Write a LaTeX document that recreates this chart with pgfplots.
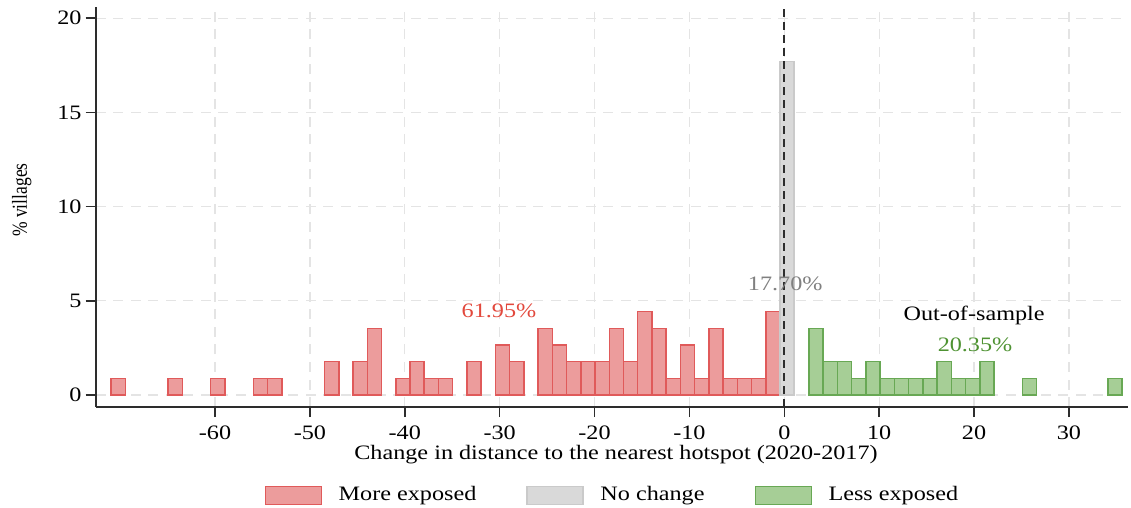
\documentclass[border=0pt]{standalone}
\usepackage{fontspec}
\setmainfont{Liberation Serif}[FakeStretch=1.18]
\newfontfamily\plainserif{Liberation Serif}
\usepackage{pgfplots}
\pgfplotsset{compat=1.18}
\definecolor{redfill}{RGB}{236,156,156}
\definecolor{rededge}{RGB}{224,90,90}
\definecolor{redtext}{RGB}{226,72,60}
\definecolor{grayfill}{RGB}{217,217,217}
\definecolor{grayedge}{RGB}{202,202,202}
\definecolor{graytext}{RGB}{128,128,128}
\definecolor{greenfill}{RGB}{166,206,150}
\definecolor{greenedge}{RGB}{104,168,84}
\definecolor{greentext}{RGB}{78,146,50}
\definecolor{gridc}{RGB}{228,228,228}
\definecolor{axc}{RGB}{45,45,45}
\newcommand{\fs}{\fontsize{8.2pt}{9.8pt}\selectfont}
\pgfplotsset{
  histbar/.style={ybar, bar width=1.5, bar shift=0pt, line width=0.6pt,
    legend image code/.code={\draw[##1, line width=0.6pt] (0pt,-3.6pt) rectangle (22.4pt,3.6pt);}},
}
\begin{document}
\begin{tikzpicture}
\useasboundingbox (-38.3pt,-40.4pt) rectangle (414.1pt,162.8pt);
\begin{axis}[
  at={(0pt,0pt)}, anchor=south west,
  scale only axis, width=412.9pt, height=160.1pt,
  xmin=-72.57, xmax=36.22, ymin=-0.64, ymax=20.61,
  axis x line*=bottom, axis y line*=left,
  axis line style={axc, line width=0.6pt},
  xtick={-60,-50,...,30}, ytick={0,5,...,20},
  tick align=outside, major tick length=4pt,
  tick style={axc, line width=0.6pt},
  grid=major, grid style={gridc, dash pattern=on 4pt off 3pt, line width=0.5pt},
  /pgf/number format/assume math mode=true,
  tick label style={font=\fs},
  yticklabel style={inner sep=1.5pt},
  xlabel={Change in distance to the nearest hotspot (2020-2017)},
  xlabel style={at={(axis description cs:0.504,-0.1324)}, anchor=base, font=\fs},
  ylabel={\scalebox{1}[1.22]{\% villages}},
  ylabel style={at={(axis description cs:-0.0666,0.517)}, anchor=base, font=\plainserif\fontsize{7pt}{8.4pt}\selectfont},
  legend columns=3,
  legend style={at={(axis description cs:0.502,-0.185)}, anchor=north, draw=none, fill=none, font=\fs,
    inner sep=0pt,
    /tikz/every even column/.append style={column sep=18pt},
    /tikz/every odd column/.append style={column sep=4.6pt}},
]
\addplot[histbar, fill=redfill, draw=rededge] coordinates {
(-70.2,0.885) (-64.2,0.885) (-59.7,0.885) (-55.2,0.885) (-53.7,0.885)
(-47.7,1.770) (-44.7,1.770) (-43.2,3.540)
(-40.2,0.885) (-38.7,1.770) (-37.2,0.885) (-35.7,0.885)
(-32.7,1.770) (-29.7,2.655) (-28.2,1.770)
(-25.2,3.540) (-23.7,2.655) (-22.2,1.770) (-20.7,1.770) (-19.2,1.770) (-17.7,3.540)
(-16.2,1.770) (-14.7,4.425) (-13.2,3.540) (-11.7,0.885) (-10.2,2.655) (-8.7,0.885)
(-7.2,3.540) (-5.7,0.885) (-4.2,0.885) (-2.7,0.885) (-1.2,4.425)
};
\addlegendentry{More exposed}
\addplot[histbar, bar width=1.47, fill=grayfill, draw=grayedge] coordinates {
(0.285,17.70)
};
\addlegendentry{No change}
\addplot[histbar, fill=greenfill, draw=greenedge] coordinates {
(3.35,3.540) (4.85,1.770) (6.35,1.770) (7.85,0.885) (9.35,1.770) (10.85,0.885)
(12.35,0.885) (13.85,0.885) (15.35,0.885) (16.85,1.770) (18.35,0.885) (19.85,0.885)
(21.35,1.770) (25.85,0.885) (34.85,0.885)
};
\addlegendentry{Less exposed}
\addplot[forget plot, axc, line width=0.9pt, dash pattern=on 3.2pt off 2pt] coordinates {(0,-0.64) (0,20.61)};
\node[font=\fs, text=redtext, anchor=base] at (axis cs:-30.07,4.12) {61.95\%};
\node[font=\fs, text=graytext, anchor=base] at (axis cs:0.1,5.54) {17.70\%};
\node[font=\fs, anchor=base] at (axis cs:20.0,3.94) {Out-of-sample};
\node[font=\fs, text=greentext, anchor=base] at (axis cs:20.1,2.30) {20.35\%};
\end{axis}
\end{tikzpicture}
\end{document}
